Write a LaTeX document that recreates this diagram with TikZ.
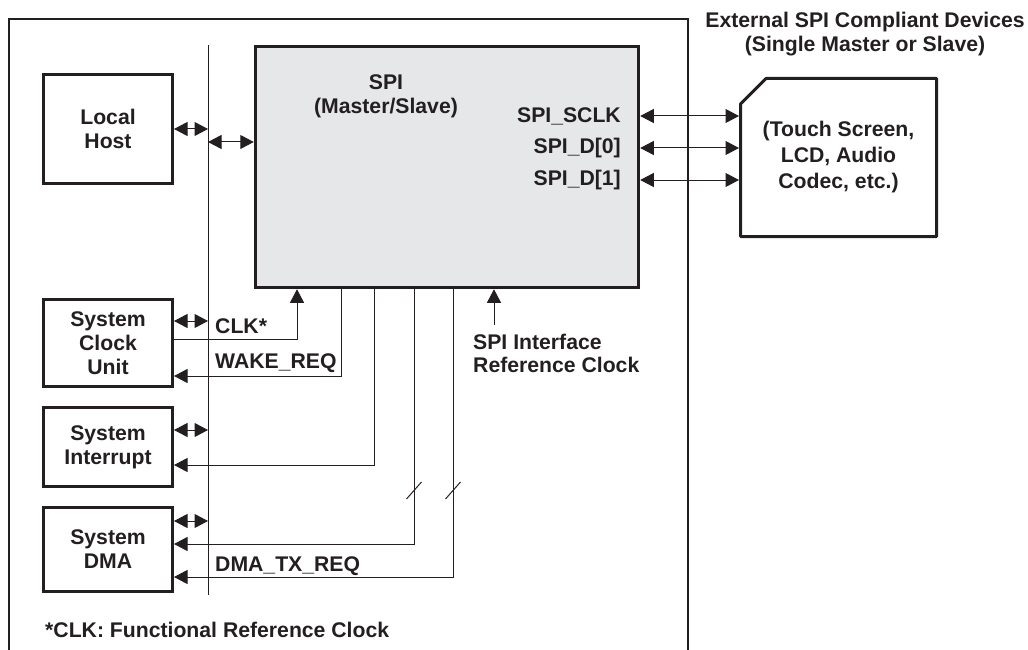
\documentclass[tikz,border=0pt]{standalone}
\usepackage{fontspec}
\setmainfont{Liberation Sans}
\usetikzlibrary{arrows.meta,calc}
\definecolor{ink}{HTML}{231F20}
\definecolor{spigray}{HTML}{E6E7E8}
\begin{document}
\begin{tikzpicture}[x=1pt,y=-1pt,
  font=\fontsize{21.2}{24}\selectfont\bfseries,
  every node/.append style={text=ink},
  box/.style={draw=ink, line width=3pt, fill=white, align=center, inner sep=0pt},
  frame/.style={draw=ink, line width=2pt},
  wire/.style={draw=ink, line width=1pt},
  tip/.style={-{Triangle[length=13.5pt,width=14pt]}},
  dtip/.style={{Triangle[length=13.5pt,width=14pt]}-{Triangle[length=13.5pt,width=14pt]}},
  lbl/.style={inner sep=0pt}]
\useasboundingbox (0,0) rectangle (1028,650);
% outer frame (open at bottom)
\draw[frame] (9,650) -- (9,19) -- (688,19) -- (688,650);
% bus
\coordinate (bt) at (208,45);
\coordinate (bb) at (208,595);
\draw[wire] (bt) -- (bb);
% boxes
\node[box, minimum width=129, minimum height=109] (lh) at (108,129) {Local\\Host};
\node[box, minimum width=129, minimum height=87] (clk) at (108,343) {System\\Clock\\Unit};
\node[box, minimum width=129, minimum height=79] (irq) at (108,447) {System\\Interrupt};
\node[box, minimum width=129, minimum height=84] (dma) at (108,549.5) {System\\DMA};
\node[box, draw=ink, line width=3.5pt, fill=spigray, minimum width=383, minimum height=241] (spi) at (447,167) {};
\node[lbl, align=center] (spit) at (386,96) {SPI\\(Master/Slave)};
\node[lbl, anchor=east] (sclk) at (621,116) {SPI\_SCLK};
\node[lbl, anchor=east] (d0) at (621,148) {SPI\_D[0]};
\node[lbl, anchor=east] (d1l) at (621,180) {SPI\_D[1]};
% external device
\node[lbl, minimum width=196, minimum height=158, outer sep=0pt, align=center,
      font=\fontsize{21.2}{26}\selectfont\bfseries] (dev) at (838.5,157.5)
      {(Touch Screen,\\LCD, Audio\\Codec, etc.)};
\draw[draw=ink, line width=3pt, line join=round]
  (dev.south west) -- ($(dev.north west)+(0,25.5)$) -- ($(dev.north west)+(25.5,0)$)
  -- (dev.north east) -- (dev.south east) -- cycle;
\node[lbl, anchor=base] (ttl1) at (865,28) {External SPI Compliant Devices};
\node[lbl, anchor=base] (ttl2) at (865,52) {(Single Master or Slave)};
% host/bus connectors
\coordinate (y142) at (0,142);
\draw[wire, dtip] (lh.east) -- (lh.east -| bt);
\draw[wire, dtip] (bt |- y142) -- (spi.west |- y142);
\coordinate (yc) at (0,321);
\coordinate (yi) at (0,430);
\coordinate (yd) at (0,521);
\draw[wire, dtip] (clk.east |- yc) -- (bt |- yc);
\draw[wire, dtip] (irq.east |- yi) -- (bt |- yi);
\draw[wire, dtip] (dma.east |- yd) -- (bt |- yd);
% SPI to device
\draw[wire, dtip] (spi.east |- sclk) -- ($(dev.west |- sclk)+(-1.5,0)$);
\draw[wire, dtip] (spi.east |- d0) -- ($(dev.west |- d0)+(-1.5,0)$);
\draw[wire, dtip] (spi.east |- d1l) -- ($(dev.west |- d1l)+(-1.5,0)$);
% system connections
\coordinate (ck) at (297,339);
\draw[wire, tip] (ck -| clk.east) -- (ck) -- (ck |- spi.south);
\coordinate (wk) at (341,376);
\draw[wire, tip] (wk |- spi.south) -- (wk) -- (wk -| clk.east);
\coordinate (ir) at (374,465);
\draw[wire, tip] (ir |- spi.south) -- (ir) -- (ir -| irq.east);
\coordinate (dm1) at (414,544);
\draw[wire, tip] (dm1 |- spi.south) -- (dm1) -- (dm1 -| dma.east);
\coordinate (dm2) at (453,577);
\draw[wire, tip] (dm2 |- spi.south) -- (dm2) -- (dm2 -| dma.east);
\coordinate (ys) at (0,490.5);
\draw[wire] (dm1 |- ys) ++(-7.5,8.5) -- ++(15,-17);
\draw[wire] (dm2 |- ys) ++(-7.5,8.5) -- ++(15,-17);
\coordinate (rc) at (494,325);
\draw[wire, tip] (rc) -- (rc |- spi.south);
% labels
\node[lbl, anchor=base west] (clkl) at (215,333) {CLK*};
\node[lbl, anchor=base west] (wkl) at (215,368) {WAKE\_REQ};
\node[lbl, anchor=base west] (dmal) at (215,571) {DMA\_TX\_REQ};
\node[lbl, anchor=base west] (rcl1) at (473,349) {SPI Interface};
\node[lbl, anchor=base west] (rcl2) at (473,372) {Reference Clock};
\node[lbl, anchor=base west] (note) at (45,637) {*CLK: Functional Reference Clock};
\end{tikzpicture}
\end{document}
